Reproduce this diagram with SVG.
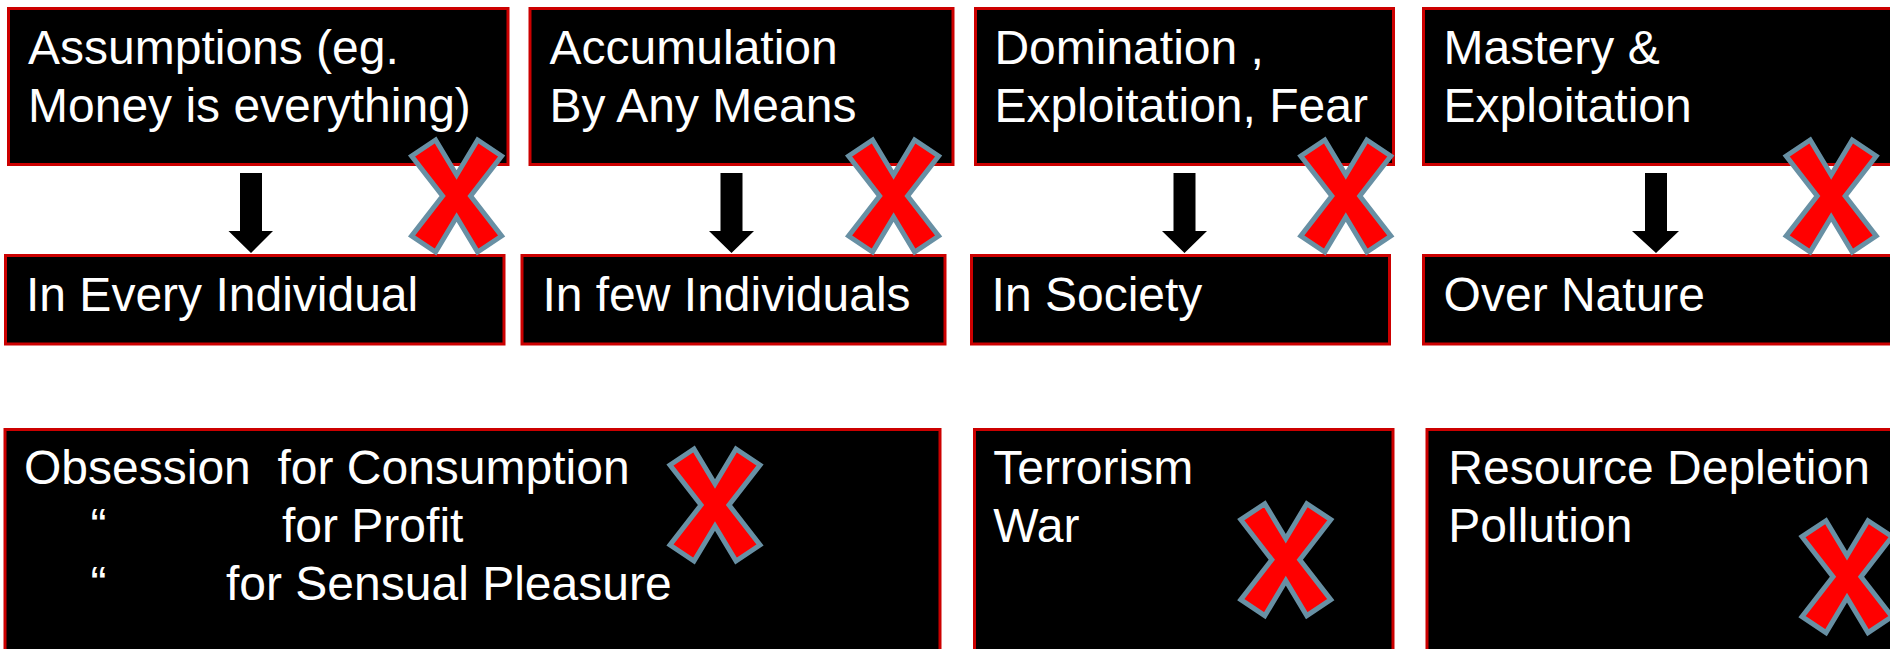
<svg xmlns="http://www.w3.org/2000/svg" xmlns:xlink="http://www.w3.org/1999/xlink" width="1890" height="649" viewBox="0 0 1890 649">
<style>
.box{fill:#000;stroke:#cc0000;stroke-width:3}
.t{font-family:"Liberation Sans",Arial,sans-serif;font-size:48px;fill:#fff}
.arrow{fill:#000}
</style>
<defs>
<path id="xmark" d="M-45,-40 L-21,-56 L0,-21 L21,-56 L45,-40 L14,0 L45,40 L21,56 L0,21 L-21,56 L-45,40 L-14,0 Z" fill="#ff0000" stroke="#6890a4" stroke-width="5" stroke-linejoin="miter"/>
</defs>
<rect width="1890" height="649" fill="#fff"/>

<g id="n-assumptions"><rect class="box" x="8.5" y="8.5" width="499.5" height="156"/><text class="t" x="28" y="64">Assumptions (eg.</text><text class="t" x="28" y="121.7">Money is everything)</text></g>
<g id="n-accumulation"><rect class="box" x="530" y="8.5" width="423" height="156"/><text class="t" x="549.6" y="64">Accumulation</text><text class="t" x="549.6" y="121.7">By Any Means</text></g>
<g id="n-domination"><rect class="box" x="975.5" y="8.5" width="418" height="156"/><text class="t" x="994.4" y="64">Domination ,</text><text class="t" x="994.4" y="121.7">Exploitation, Fear</text></g>
<g id="n-mastery"><rect class="box" x="1423.5" y="8.5" width="480" height="156"/><text class="t" x="1443.6" y="64">Mastery &amp;</text><text class="t" x="1443.6" y="121.7">Exploitation</text></g>

<g id="n-every"><rect class="box" x="5.5" y="255.5" width="498.5" height="88.5"/><text class="t" x="26" y="310.7">In Every Individual</text></g>
<g id="n-few"><rect class="box" x="522" y="255.5" width="423" height="88.5"/><text class="t" x="542.4" y="310.7">In few Individuals</text></g>
<g id="n-society"><rect class="box" x="971.5" y="255.5" width="418" height="88.5"/><text class="t" x="991.6" y="310.7">In Society</text></g>
<g id="n-nature"><rect class="box" x="1423.5" y="255.5" width="480" height="88.5"/><text class="t" x="1443.6" y="310.7">Over Nature</text></g>

<g id="n-obsession"><rect class="box" x="5" y="429.5" width="935" height="240"/>
<text class="t" x="24" y="484.3" xml:space="preserve">Obsession  for Consumption</text>
<text class="t" y="542.3"><tspan x="90.4">“</tspan><tspan x="282">for Profit</tspan></text>
<text class="t" y="600"><tspan x="90.4">“</tspan><tspan x="226">for Sensual Pleasure</tspan></text></g>
<g id="n-terrorism"><rect class="box" x="974.5" y="429.5" width="418.5" height="240"/><text class="t" x="993.2" y="484.3">Terrorism</text><text class="t" x="993.2" y="541.7">War</text></g>
<g id="n-resource"><rect class="box" x="1427" y="429.5" width="480" height="240"/><text class="t" x="1448.3" y="484.3">Resource Depletion</text><text class="t" x="1448.3" y="541.7">Pollution</text></g>

<g id="connectors">
<path class="arrow" d="M240,173 H262 V231 H273 L251,253 L228.5,231 H240 Z"/>
<path class="arrow" d="M720.5,173 H742.5 V231 H754 L731.5,253 L709,231 H720.5 Z"/>
<path class="arrow" d="M1173.5,173 H1195.5 V231 H1207 L1184.5,253 L1162,231 H1173.5 Z"/>
<path class="arrow" d="M1645,173 H1667 V231 H1679 L1656,253 L1632,231 H1645 Z"/>
</g>

<g id="xmarks">
<use xlink:href="#xmark" x="456.6" y="196"/>
<use xlink:href="#xmark" x="893.6" y="196"/>
<use xlink:href="#xmark" x="1345.8" y="196"/>
<use xlink:href="#xmark" x="1831.2" y="196"/>
<use xlink:href="#xmark" x="715" y="505"/>
<use xlink:href="#xmark" x="1285.8" y="559.7"/>
<use xlink:href="#xmark" x="1847" y="576.7"/>
</g>
</svg>
